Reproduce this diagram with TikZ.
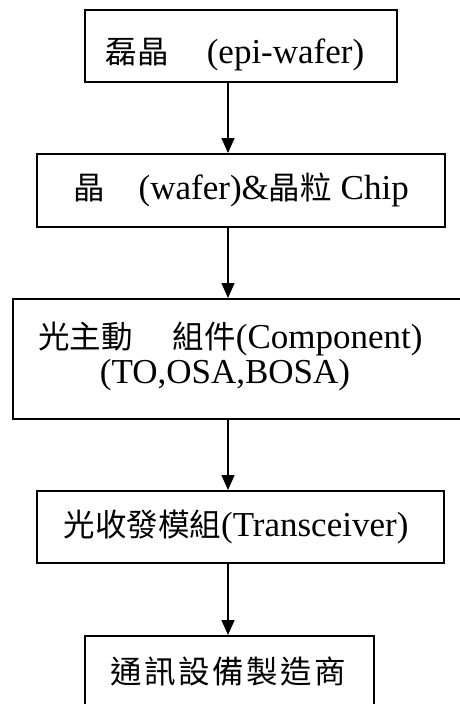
\documentclass[tikz,border=0pt]{standalone}
\usepackage{fontspec}
\setmainfont{Liberation Serif}
\newfontfamily\cjk{Noto Sans CJK TC}[Scale=0.9]
\newfontfamily\cjkwide{Noto Sans CJK TC}[Scale=0.9,LetterSpace=8]
\usetikzlibrary{arrows.meta,positioning}

\begin{document}
\begin{tikzpicture}[x=1pt,y=-1pt,
        stage/.style={draw,line width=2pt,inner sep=0pt,anchor=north west,
            font=\fontsize{35}{35}\selectfont},
        flow/.style={-{Triangle[length=15pt,width=13pt]},line width=1.6pt}]
        \useasboundingbox[fill=white] (0,0) rectangle (459,704);
        
        % Supply chain stages
        \node[stage,minimum width=312pt,text height=53pt,text depth=19pt] (epi) at (84,9)
            {{\cjk 磊晶}\hspace{38pt}(epi-wafer)\hspace*{12pt}};
        \node[stage,minimum width=408pt,text height=45pt,text depth=28pt] (wafer) at (36,153)
            {{\cjk 晶}\hspace{34pt}(wafer)\&{\cjk 晶粒} Chip};
        \node[stage,minimum width=456pt,text height=84pt,text depth=36pt,align=center] (comp) at (12,298)
            {{\cjk 光主動}\hspace{40pt}{\cjk 組件}(Component)\hspace*{21pt}\\(TO,OSA,BOSA)\hspace*{32pt}};
        \node[stage,minimum width=407pt,text height=45pt,text depth=27pt] (trx) at (36,490)
            {{\cjk 光收發模組}(Transceiver)\hspace*{9pt}};
        \node[stage,minimum width=289pt,text height=47pt,text depth=30pt] (oem) at (84,635)
            {\hspace*{3pt}{\cjkwide 通訊設備製造商}\hspace*{6pt}};
        
        % Flow arrows
        \coordinate (spine) at (228,0);
        \draw[flow] (epi.south -| spine) -- (wafer.north -| spine);
        \draw[flow] (wafer.south -| spine) -- (comp.north -| spine);
        \draw[flow] (comp.south -| spine) -- (trx.north -| spine);
        \draw[flow] (trx.south -| spine) -- (oem.north -| spine);
        
    \end{tikzpicture}
\end{document}
